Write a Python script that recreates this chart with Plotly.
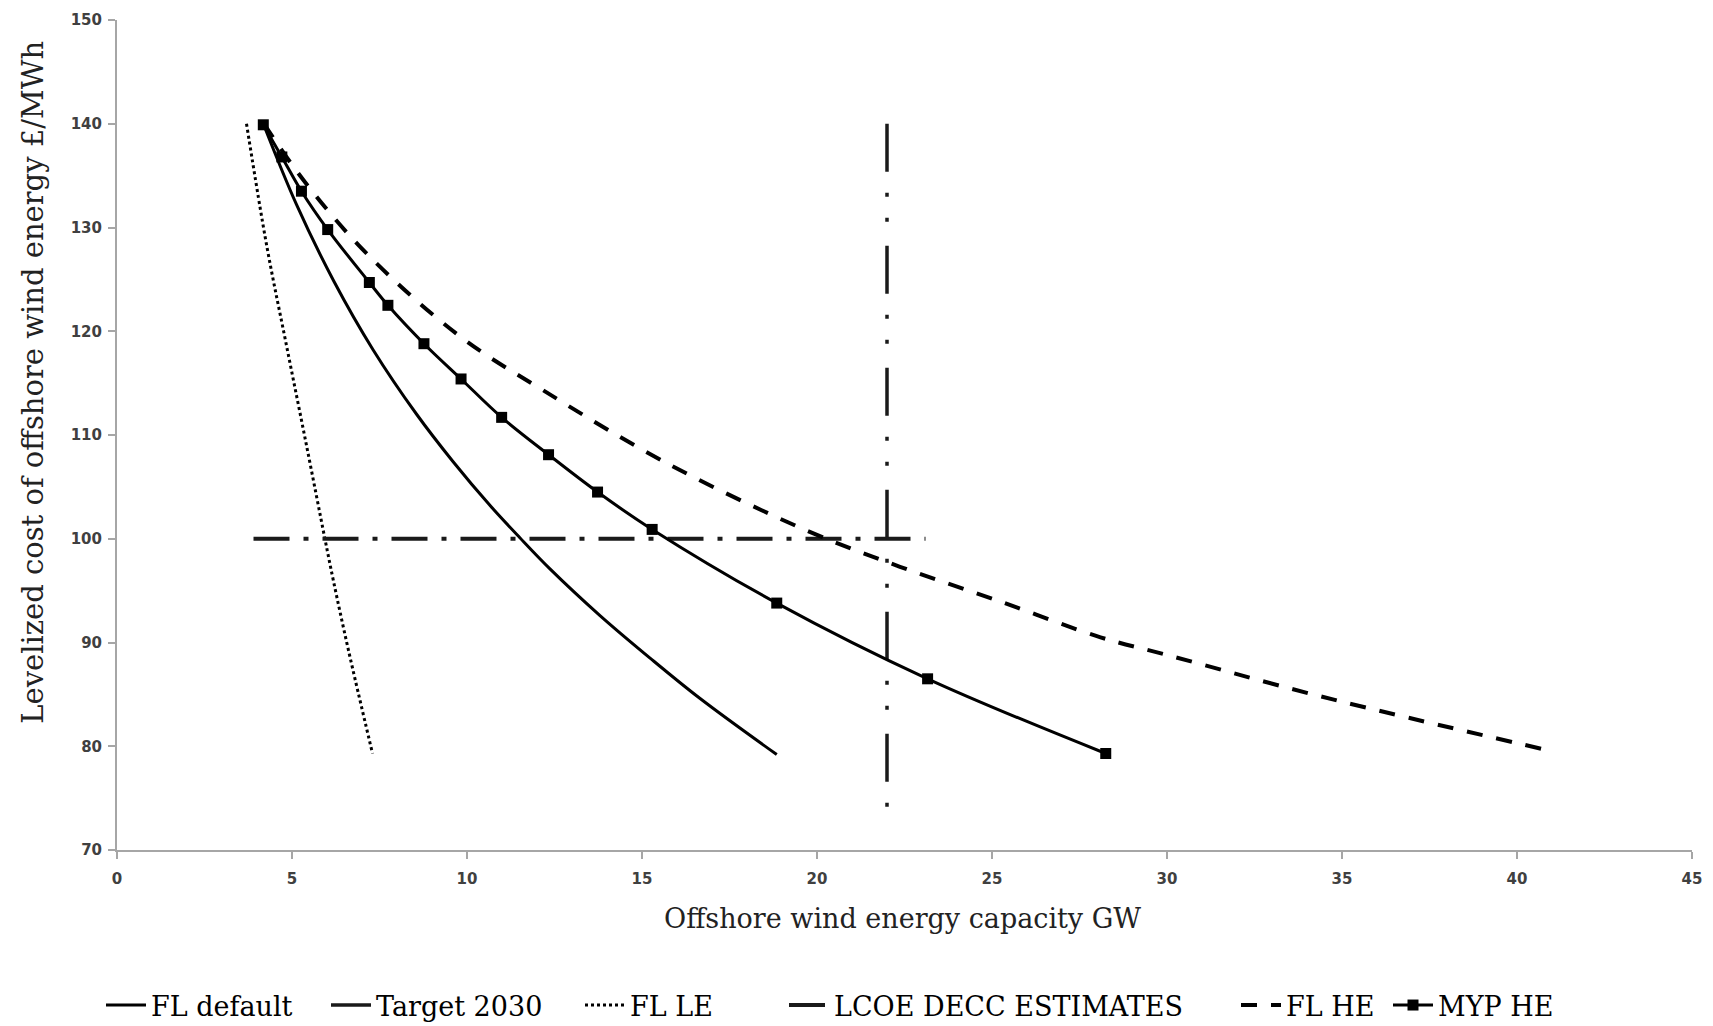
import plotly.graph_objects as go

# ---------------- data ----------------
fl_default_x = [4.18, 5.13, 6.2, 7.32, 8.56, 9.61, 10.66, 11.51, 12.37, 13.8, 15.23, 16.66, 18.85]
fl_default_y = [140.0, 132.2, 124.8, 118.2, 112.0, 107.4, 103.2, 100.1, 97.1, 92.6, 88.5, 84.6, 79.2]

target_2030_x = [22.0, 22.0]
target_2030_y = [140.0, 72.2]

fl_le_x = [3.7, 4.28, 4.85, 5.42, 5.94, 6.18, 6.61, 7.3]
fl_le_y = [140.0, 128.2, 118.5, 108.9, 100.0, 96.0, 89.3, 79.3]

lcoe_decc_x = [3.9, 23.1]
lcoe_decc_y = [100.0, 100.0]

fl_he_x = [4.2, 5.32, 7.13, 9.8, 12.18, 15.7, 19.7, 22.37, 25.2, 28.1, 30.0, 34.4, 40.9]
fl_he_y = [140.0, 134.6, 127.5, 119.5, 114.3, 107.3, 100.8, 97.3, 94.0, 90.5, 88.8, 84.8, 79.6]

myp_he_x = [4.18, 4.71, 5.27, 6.02, 7.21, 7.74, 8.77, 9.83, 10.99, 12.33, 13.73, 15.29, 18.85, 23.16, 28.25]
myp_he_y = [139.9, 136.8, 133.5, 129.8, 124.7, 122.5, 118.8, 115.4, 111.7, 108.1, 104.5, 100.9, 93.8, 86.5, 79.3]

x_ticks = [0, 5, 10, 15, 20, 25, 30, 35, 40, 45]
y_ticks = [70, 80, 90, 100, 110, 120, 130, 140, 150]

x_title = "Offshore wind energy capacity GW"
y_title = "Levelized cost of offshore wind energy £/MWh"

# ---------------- figure ----------------
SERIF = "DejaVu Serif"
fig = go.Figure()

fig.add_trace(go.Scatter(x=fl_default_x, y=fl_default_y, name="FL default", mode="lines",
                         legendwidth=170,
                         line=dict(color="black", width=3, shape="spline")))
fig.add_trace(go.Scatter(x=target_2030_x, y=target_2030_y, name="Target 2030", mode="lines",
                         legendwidth=199,
                         line=dict(color="#1a1a1a", width=3.5, dash="48px,21px,4px,21px,4px,24px")))
fig.add_trace(go.Scatter(x=fl_le_x, y=fl_le_y, name="FL LE", mode="lines",
                         legendwidth=149,
                         line=dict(color="black", width=3, dash="3px,3px", shape="spline")))
fig.add_trace(go.Scatter(x=lcoe_decc_x, y=lcoe_decc_y, name="LCOE DECC ESTIMATES", mode="lines",
                         legendwidth=397,
                         line=dict(color="#1a1a1a", width=4, dash="36px,14px,5px,14px")))
fig.add_trace(go.Scatter(x=fl_he_x, y=fl_he_y, name="FL HE", mode="lines",
                         legendwidth=97,
                         line=dict(color="black", width=4, dash="16px,14px", shape="spline")))
fig.add_trace(go.Scatter(x=myp_he_x, y=myp_he_y, name="MYP HE", mode="lines+markers",
                         line=dict(color="black", width=3, shape="spline"),
                         marker=dict(symbol="square", size=11, color="black")))

axis_common = dict(
    showline=True, linecolor="#a6a6a6", linewidth=2,
    ticks="outside", tickcolor="#a6a6a6", ticklen=7, tickwidth=2,
    showgrid=False, zeroline=False,
    tickfont=dict(family="DejaVu Sans", size=15, color="#404040", weight="bold"),
)

fig.update_xaxes(range=[0, 45], tickvals=x_ticks, ticklabelstandoff=7, **axis_common)
fig.update_yaxes(range=[70, 150], tickvals=y_ticks, ticklabelstandoff=3, **axis_common)

fig.update_layout(
    width=1713, height=1026,
    margin=dict(l=117, r=21, t=20, b=176),
    paper_bgcolor="white", plot_bgcolor="white",
    showlegend=True,
    legend=dict(orientation="h", x=101 / 1713, xanchor="left", xref="container",
                y=0.02, yanchor="middle", yref="container",
                font=dict(family=SERIF, size=27, color="black"),
                itemwidth=40, tracegroupgap=0),
    annotations=[
        dict(text=x_title, xref="paper", yref="paper", x=0.499, y=-0.082,
             xanchor="center", yanchor="middle", showarrow=False,
             font=dict(family=SERIF, size=27, color="#222222")),
        dict(text=y_title, xref="paper", yref="paper", x=-0.0533, y=0.563,
             xanchor="center", yanchor="middle", showarrow=False, textangle=-90,
             font=dict(family=SERIF, size=29, color="#222222")),
    ],
)

fig.write_html("out.html", config={"displayModeBar": False},
               post_script="document.body.style.margin='0';")
